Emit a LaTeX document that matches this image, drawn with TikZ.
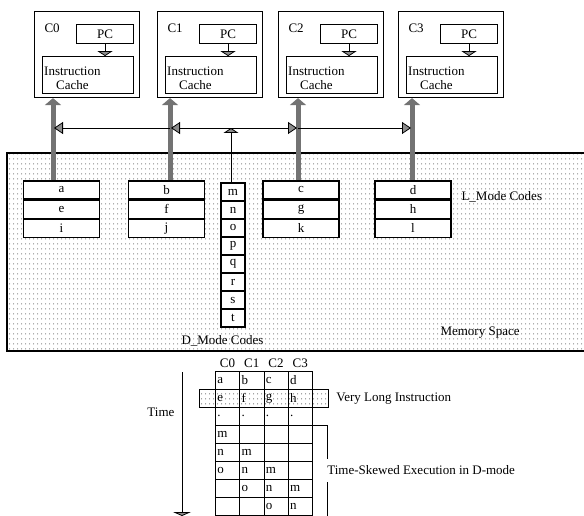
\documentclass[tikz,border=0pt]{standalone}
\usepackage{fontspec}
\setmainfont{Liberation Serif}
\usetikzlibrary{arrows.meta,positioning,patterns.meta}
\tikzdeclarepattern{
  name=memdots, type=uncolored,
  bottom left={(0pt,0pt)}, top right={(4pt,5pt)},
  tile size={(4pt,5pt)},
  code={\pgfpathcircle{\pgfpoint{2pt}{2.5pt}}{0.7pt}\pgfusepath{fill}}
}
\tikzset{
  cpu/.style={rectangle, draw, line width=1.1pt, minimum width=105pt, minimum height=86pt, anchor=north west, inner sep=0pt},
  pcbox/.style={rectangle, draw, line width=1.1pt, minimum width=57pt, minimum height=19pt, inner sep=0pt},
  cache/.style={rectangle, draw, line width=1.1pt, minimum width=91pt, minimum height=37pt, inner sep=0pt},
  cachetxt/.style={anchor=west, align=center, inner sep=2pt, yshift=-3pt},
  code/.style={rectangle, draw, line width=1.1pt, fill=white, minimum width=76pt, minimum height=18pt, inner sep=0pt},
  dcode/.style={code, minimum width=24pt},
  cell/.style={rectangle, draw, thick, minimum height=18pt, text width=20.25pt, inner xsep=2pt, inner ysep=0pt, align=left, anchor=north west},
  memfill/.style={pattern=memdots, pattern color=black!55},
  bus/.style={line width=5pt, draw=black!55, -{Triangle[length=7pt,width=16pt]}},
  flat/.style={thick, -{Triangle[length=5pt,width=15pt,fill=black!45]}},
  side/.style={thick, shorten >=1pt, -{Triangle[length=9pt,width=12pt,fill=black!45]}}
}
\begin{document}
\begin{tikzpicture}[x=1pt, y=-1pt, font=\fontsize{13}{14}\selectfont]
\useasboundingbox (0,0) rectangle (584,516);
\fill[memfill] (7,153) rectangle (584,351);
\draw[line width=1.1pt] (584,153) -- (7,153) -- (7,351) -- (584,351);

\foreach \i/\x in {0/34,1/157,2/278,3/398}{
  \node[cpu] (c\i) at (\x,11) {};
  \node[anchor=west] (n\i) at ([xshift=7pt,yshift=-17pt]c\i.north west) {C\i};
  \node[pcbox, below left=13pt and 6pt of c\i.north east] (pc\i) {PC};
  \node[cache, below left=12pt and 0pt of pc\i.south east, label={[cachetxt]west:{Instruction\\Cache}}] (ic\i) {};
  \draw[flat] (pc\i.south) -- (pc\i.south |- ic\i.north);
}

\foreach \x/\p/\q/\r in {61.5/a/e/i, 166.5/b/f/j, 301/c/g/k, 413/d/h/l}{
  \node[code] (l\p) at (\x,190) {\p};
  \node[code, below=0pt of l\p] (l\q) {\q};
  \node[code, below=0pt of l\q] (l\r) {\r};
}
\foreach \t [count=\k] in {m,n,o,p,q,r,s,t}
  \node[dcode] (d\t) at (233,{174+18*\k}) {\t};

\coordinate (b0) at (53,0);
\coordinate (b1) at (170,0);
\coordinate (b2) at (298,0);
\coordinate (b3) at (412,0);
\coordinate (hub) at (231,128);
\foreach \i/\p in {0/a,1/b,2/c,3/d}
  \draw[bus] (l\p.north -| b\i) -- (c\i.south -| b\i);
\draw[flat] (dm.north -| hub) -- (hub);
\draw[side] (hub) -- (hub -| b1);
\draw[side] (hub -| b1) -- (hub -| b0);
\draw[side] (hub) -- (hub -| b2);
\draw[side] (hub -| b2) -- (hub -| b3);

\node[anchor=west] (lmode) at (458,197) {L\_Mode Codes};
\node[anchor=west] (dmode) at (178,341) {D\_Mode Codes};
\node[anchor=west] (memsp) at (437,333) {Memory Space};

\foreach \r/\ta/\tb/\tc/\td in {1/a/b/c/d, 2/e/f/g/h, 3/./././., 4/m/{}/{}/{}, 5/n/m/{}/{}, 6/o/n/m/{}, 7/{}/o/n/m, 8/{}/{}/o/n}{
  \foreach \c/\t in {1/\ta, 2/\tb, 3/\tc, 4/\td}
    \node[cell] (t\r\c) at ({215+24.25*(\c-1)},{371+18*(\r-1)}) {\t};
}
\foreach \c/\k in {1/0,2/1,3/2,4/3}
  \node[above=0pt of t1\c] (h\k) {C\k};
\draw[thick, memfill] ([xshift=-16pt]t21.north west) rectangle ([xshift=16pt]t24.south east);
\node[anchor=west] (vli) at ([xshift=20pt]t24.east) {Very Long Instruction};

\coordinate (time0) at (182,372);
\coordinate (time1) at (182,516);
\draw[thick, -{Triangle[length=4pt,width=18pt,fill=black!45]}] (time0) -- (time1);
\node[anchor=east] (time) at (178,412) {Time};

\coordinate (skew) at ([xshift=15pt]t34.south east);
\draw[thick] (t34.south east) -- (skew) -- (skew |- time1);
\node[anchor=west, fill=white, inner ysep=7pt] (tsk) at ([xshift=-4pt]skew |- t61.center) {Time-Skewed Execution in D-mode};
\end{tikzpicture}
\end{document}
